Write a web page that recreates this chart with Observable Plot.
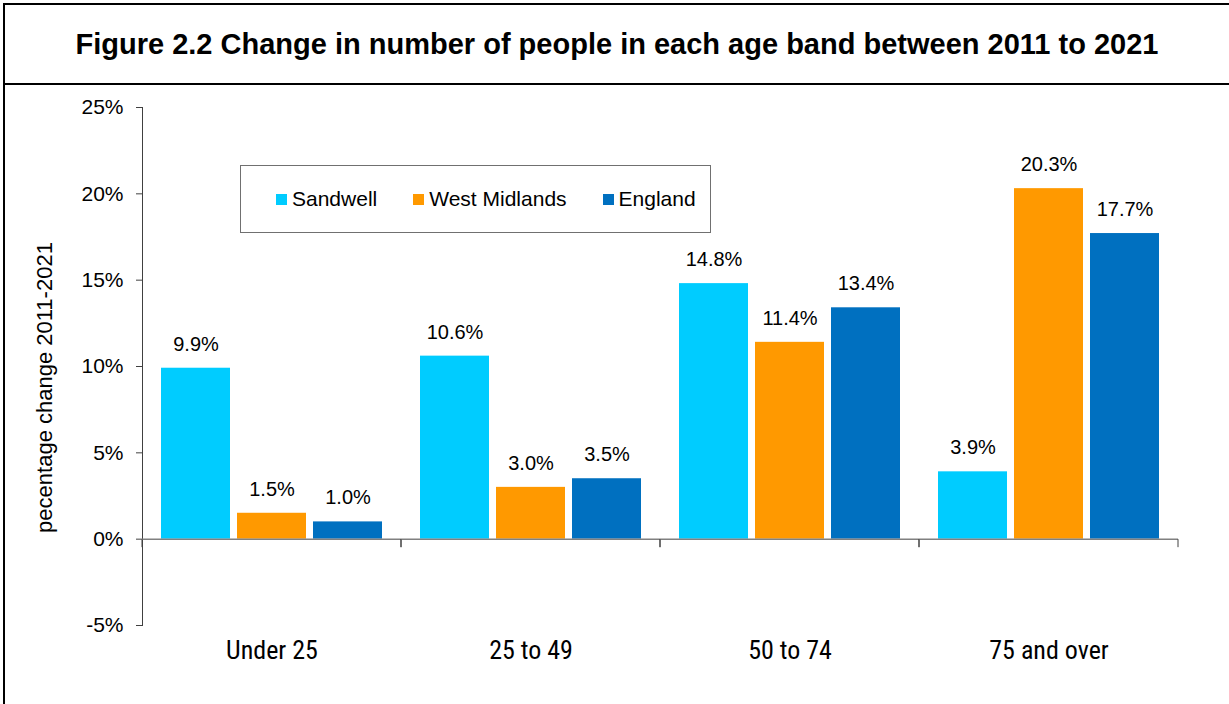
<!DOCTYPE html>
<html><head><meta charset="utf-8">
<script src="https://cdn.jsdelivr.net/npm/d3@7"></script>
<script src="https://cdn.jsdelivr.net/npm/@observablehq/plot@0.6"></script>
<style>
body{margin:0;background:#fff;font-family:"Liberation Sans",Arial,sans-serif;}
#page{position:relative;width:1229px;height:704px;overflow:hidden;background:#fff;}
#box{position:absolute;left:3px;top:3px;width:1300px;height:800px;border-left:2px solid #000;border-top:2px solid #000;}
#title{position:absolute;left:5px;top:5px;width:1224px;height:78px;border-bottom:2px solid #000;display:flex;align-items:center;justify-content:center;font-weight:bold;font-size:29px;color:#000;white-space:nowrap;}
#chart{position:absolute;left:0;top:86px;}
#legend{position:absolute;left:240px;top:165px;border:1px solid #707070;display:flex;align-items:center;padding-left:35px;box-sizing:border-box;width:471px;height:68px;font-size:21px;color:#000;white-space:nowrap;}
.item{display:flex;align-items:center;margin-right:36px;white-space:nowrap;}
.sw{width:11px;height:11px;margin-right:5px;flex:none;}
#chart svg g[aria-label="fx-axis tick label"] text{font-stretch:75%;}
</style></head>
<body>
<div id="page">
  <div id="box"></div>
  <div id="title"></div>
  <div id="chart"></div>
  <div id="legend"></div>
</div>
<script>
const title = "Figure 2.2 Change in number of people in each age band between 2011 to 2021";
const categories = ["Under 25", "25 to 49", "50 to 74", "75 and over"];
const series = ["Sandwell", "West Midlands", "England"];
const sandwell = [9.9, 10.6, 14.8, 3.9];
const westMidlands = [1.5, 3.0, 11.4, 20.3];
const england = [1.0, 3.5, 13.4, 17.7];
const colors = ["#00CCFF", "#FF9900", "#0070C0"];
const yTicks = [-5, 0, 5, 10, 15, 20, 25];
const yLabel = "pecentage change 2011-2021";

const narrow = "'Roboto Condensed', 'Open Sans', sans-serif";
const seriesValues = [sandwell, westMidlands, england];
const data = categories.flatMap((c, i) => series.map((s, j) => ({category: c, series: s, value: seriesValues[j][i]})));

document.getElementById("title").textContent = title;

const legend = document.getElementById("legend");
series.forEach((s, j) => {
  const it = document.createElement("div"); it.className = "item";
  const sw = document.createElement("div"); sw.className = "sw"; sw.style.background = colors[j];
  const tx = document.createElement("span"); tx.textContent = s;
  it.append(sw, tx); legend.append(it);
});

const chart = Plot.plot({
  width: 1229, height: 618,
  marginTop: 21, marginBottom: 79, marginLeft: 141, marginRight: 51,
  style: {fontFamily: "'Liberation Sans', Arial, sans-serif", background: "transparent", color: "#000", overflow: "visible"},
  fx: {domain: categories, padding: 0},
  x: {domain: series, paddingInner: 0.0909, paddingOuter: 0.229, axis: null},
  y: {domain: [-5, 25]},
  color: {domain: series, range: colors},
  marks: [
    Plot.barY(data, {fx: "category", x: "series", y: "value", fill: "series"}),
    Plot.frame({anchor: "left", facetAnchor: "left", stroke: "#404040"}),
    Plot.axisY({ticks: yTicks, tickFormat: d => d + "%", tickSize: 6, tickPadding: 13, fontSize: 21, label: null, stroke: "#404040"}),
    Plot.text([yLabel], {frameAnchor: "left", facetAnchor: "left", rotate: -90, dx: -98, dy: 21, fontSize: 22, textAnchor: "middle", lineAnchor: "middle", fill: "#000"}),
    Plot.axisFx({anchor: "bottom", tickSize: 0, tickPadding: 15.5, fontSize: 26, fontFamily: narrow, label: null}),
    Plot.ruleY([0], {
      stroke: "#808080", strokeWidth: 1.5,
      render(index, scales, values, dimensions, context, next) {
        const g = next(index, scales, values, dimensions, context);
        const [x0, x1] = scales.x.range();
        const y0 = scales.y(0);
        for (const x of [x0, x1]) {
          d3.select(g).append("line").attr("x1", x).attr("x2", x).attr("y1", y0).attr("y2", y0 + 8)
            .attr("stroke", "#404040").attr("stroke-width", 1);
        }
        return g;
      }
    }),
    Plot.text(data, {fx: "category", x: "series", y: "value", text: d => d.value.toFixed(1) + "%", dy: -24, fontSize: 20, fill: "#000"})
  ]
});
document.getElementById("chart").append(chart);
</script>
</body></html>
